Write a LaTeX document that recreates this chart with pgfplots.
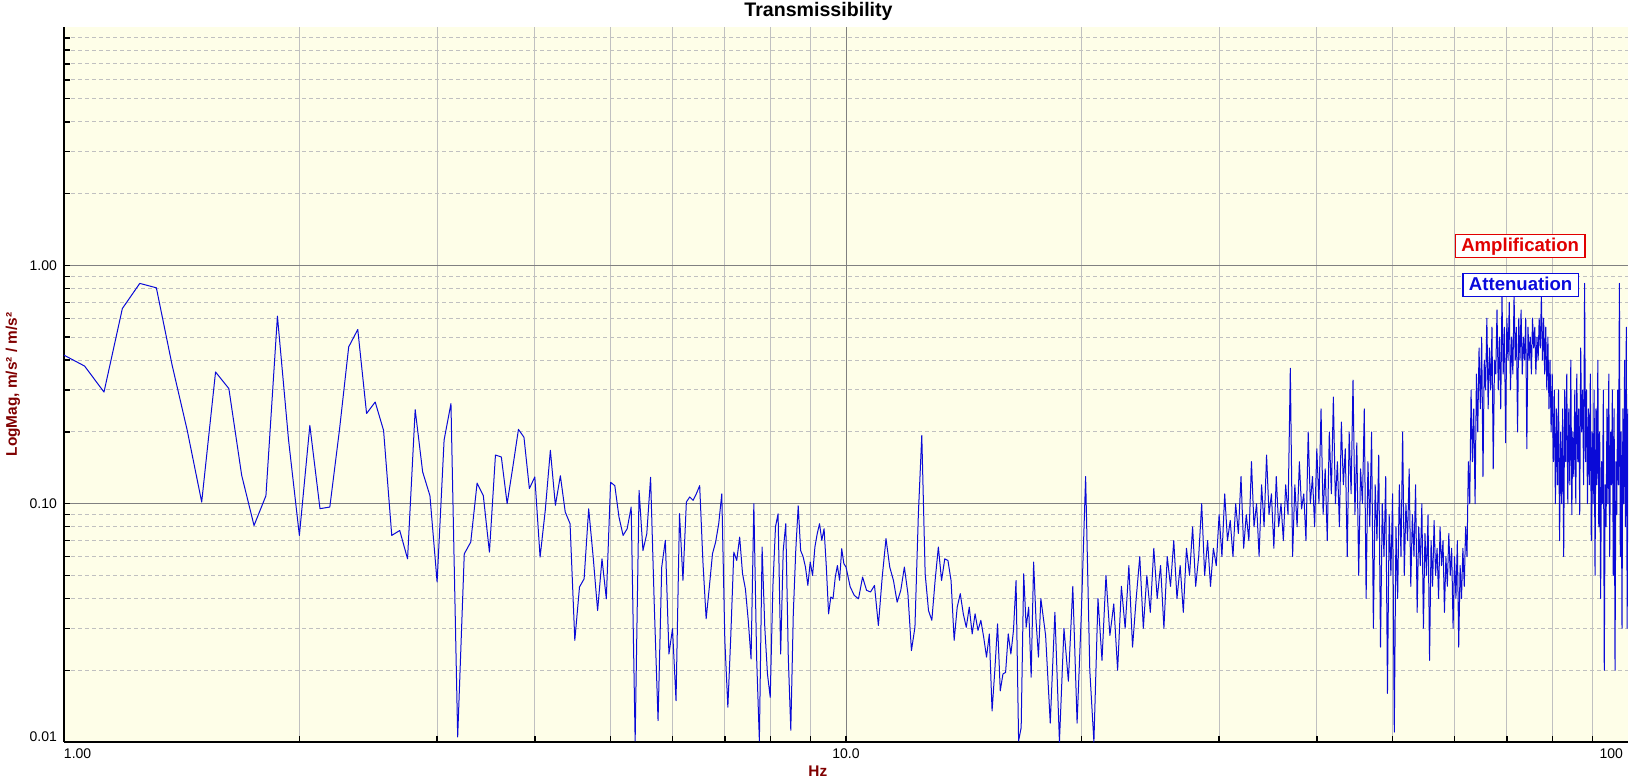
\documentclass[border=0pt]{standalone}
\usepackage{fontspec}
\setmainfont{Liberation Sans}
\usepackage{pgfplots}
\pgfplotsset{compat=1.18}
\definecolor{bgy}{RGB}{254,254,232}
\definecolor{lblred}{RGB}{128,0,0}
\definecolor{curve}{RGB}{10,10,215}
\definecolor{majg}{RGB}{128,128,128}
\definecolor{ming}{RGB}{192,192,192}
\definecolor{ampred}{RGB}{225,0,0}
\definecolor{attblue}{RGB}{10,10,220}
\begin{document}
\begin{tikzpicture}
\useasboundingbox (-32pt,-20pt) rectangle (786.5pt,371pt);
\begin{axis}[
  at={(0,0)}, anchor=south west,
  scale only axis, width=782pt, height=357.5pt,
  xmode=log, ymode=log,
  xmin=1, xmax=100, ymin=0.01, ymax=10,
  axis x line*=bottom, axis y line*=left,
  axis line style={black, line width=1.4pt, -},
  axis background/.style={fill=bgy},
  xtick={10}, xticklabels={10.0},
  extra x ticks={1,100}, extra x tick labels={\rlap{1.00},\llap{100\hspace{2.5pt}}},
  extra x tick style={grid=none, major tick length=0pt},
  minor xtick={2,3,4,5,6,7,8,9,20,30,40,50,60,70,80,90},
  ytick={0.1,1}, yticklabels={0.10,1.00},
  extra y ticks={0.01}, extra y tick labels={0.01},
  extra y tick style={yticklabel style={yshift=2.6pt}, grid=none},
  minor ytick={0.02,0.03,0.04,0.05,0.06,0.07,0.08,0.09,0.2,0.3,0.4,0.5,0.6,0.7,0.8,0.9,2,3,4,5,6,7,8,9},
  tick align=inside, major tick length=3pt, minor tick length=3pt,
  tick style={black, line width=0.7pt},
  xmajorgrids, xminorgrids, ymajorgrids, yminorgrids,
  major grid style={majg, line width=0.5pt},
  minor x grid style={ming, line width=0.5pt},
  minor y grid style={ming, line width=0.5pt, dash pattern=on 2pt off 1.5pt},
  ticklabel style={font=\fontsize{7}{8}\selectfont},
  title={Transmissibility},
  title style={at={(axis description cs:0.4824,1)}, anchor=base, yshift=-0.5pt, font=\fontsize{9.8}{11}\selectfont\bfseries},
  xlabel={Hz},
  xlabel style={at={(axis description cs:0.482,0)}, anchor=base, yshift=-17pt, font=\fontsize{7.7}{9}\selectfont\bfseries, text=lblred},
  ylabel={LogMag, m/s² / m/s²},
  ylabel style={at={(axis description cs:-0.0302,0.5)}, anchor=base, font=\fontsize{7.7}{9}\selectfont\bfseries, text=lblred},
]
\addplot[curve, line width=0.5pt, mark=none, line join=round] table {
1.0 0.42
1.0625 0.378
1.125 0.294
1.1875 0.659
1.25 0.84
1.3125 0.805
1.375 0.381
1.4375 0.203
1.5 0.1016
1.5625 0.357
1.625 0.304
1.6875 0.1315
1.75 0.081
1.8125 0.108
1.875 0.612
1.9375 0.185
2.0 0.0736
2.0625 0.213
2.125 0.0953
2.1875 0.0968
2.25 0.203
2.3125 0.455
2.375 0.538
2.4375 0.239
2.5 0.267
2.5625 0.203
2.625 0.0736
2.6875 0.0772
2.75 0.0587
2.8125 0.248
2.875 0.136
2.9375 0.108
3.0 0.0469
3.0625 0.185
3.125 0.263
3.1875 0.0105
3.25 0.0616
3.3125 0.069
3.375 0.122
3.4375 0.108
3.5 0.0626
3.5625 0.160
3.625 0.157
3.6875 0.10
3.75 0.1426
3.8125 0.205
3.875 0.190
3.9375 0.1157
4.0 0.1295
4.0625 0.0597
4.125 0.0937
4.1875 0.1675
4.25 0.0984
4.3125 0.131
4.375 0.0923
4.4375 0.0824
4.5 0.0267
4.5625 0.0447
4.625 0.0484
4.6875 0.0952
4.75 0.0597
4.8125 0.0356
4.875 0.0587
4.9375 0.0399
5.0 0.123
5.0625 0.119
5.125 0.0879
5.1875 0.0736
5.25 0.0785
5.3125 0.0968
5.375 0.0101
5.4375 0.1137
5.5 0.0636
5.5625 0.0748
5.625 0.129
5.6875 0.0368
5.75 0.0123
5.8125 0.0542
5.875 0.0702
5.9375 0.0234
6.0 0.0299
6.0625 0.0149
6.125 0.0908
6.1875 0.0477
6.25 0.1016
6.3125 0.1067
6.375 0.1033
6.4375 0.1102
6.5 0.119
6.5625 0.0569
6.625 0.0329
6.6875 0.0447
6.75 0.0617
6.8125 0.069
6.875 0.0824
6.9375 0.110
7.0 0.0267
7.0625 0.014
7.125 0.0284
7.1875 0.0626
7.25 0.0578
7.3125 0.0724
7.375 0.0508
7.4375 0.0439
7.5 0.0324
7.5625 0.0223
7.625 0.1
7.6875 0.0227
7.75 0.0101
7.8125 0.0658
7.875 0.0303
7.9375 0.0193
8.0 0.0154
8.0625 0.0447
8.125 0.08
8.1875 0.0907
8.25 0.0234
8.3125 0.0636
8.375 0.0824
8.4375 0.0227
8.5 0.0112
8.5625 0.0345
8.625 0.0636
8.6875 0.098
8.75 0.0636
8.8125 0.06
8.875 0.0542
8.9375 0.0454
9.0 0.0569
9.0625 0.05
9.125 0.0658
9.1875 0.0748
9.25 0.0824
9.3125 0.0702
9.375 0.0785
9.4375 0.0542
9.5 0.0345
9.5625 0.0406
9.625 0.0399
9.6875 0.049
9.75 0.055
9.8125 0.0477
9.875 0.0647
9.9375 0.056
10.0 0.0542
10.125 0.0447
10.25 0.0412
10.375 0.0399
10.5 0.0492
10.625 0.0433
10.75 0.0426
10.875 0.0454
11.0 0.0308
11.125 0.0492
11.25 0.0713
11.375 0.0542
11.5 0.0476
11.625 0.0386
11.75 0.0433
11.875 0.0542
12.0 0.0419
12.125 0.0242
12.25 0.0303
12.375 0.0908
12.5 0.1936
12.625 0.0508
12.75 0.0356
12.875 0.0324
13.0 0.0476
13.125 0.0658
13.25 0.0476
13.375 0.0587
13.5 0.0578
13.625 0.0476
13.75 0.0267
13.875 0.0368
14.0 0.0419
14.125 0.0345
14.25 0.0303
14.375 0.0368
14.5 0.0284
14.625 0.0345
14.75 0.0294
14.875 0.0324
15.0 0.0275
15.125 0.0227
15.25 0.0284
15.375 0.0135
15.5 0.02
15.625 0.0313
15.75 0.0164
15.875 0.0193
16.0 0.0196
16.125 0.0284
16.25 0.0234
16.375 0.0294
16.5 0.0476
16.625 0.0101
16.75 0.0115
16.875 0.0508
17.0 0.0303
17.125 0.0368
17.25 0.0187
17.375 0.0569
17.5 0.0324
17.625 0.0227
17.75 0.04
18.0 0.028
18.25 0.012
18.5 0.035
18.75 0.010
19.0 0.03
19.25 0.018
19.5 0.045
19.75 0.012
20.0 0.035
20.25 0.13
20.5 0.02
20.75 0.01
21.0 0.04
21.25 0.022
21.5 0.05
21.75 0.028
22.0 0.038
22.25 0.02
22.5 0.045
22.75 0.03
23.0 0.055
23.25 0.025
23.5 0.04
23.75 0.06
24.0 0.03
24.25 0.05
24.5 0.035
24.75 0.065
25.0 0.04
25.25 0.055
25.5 0.03
25.75 0.06
26.0 0.045
26.25 0.07
26.5 0.04
26.75 0.055
27.0 0.035
27.25 0.065
27.5 0.05
27.75 0.08
28.0 0.045
28.25 0.06
28.5 0.1
28.75 0.05
29.0 0.07
29.25 0.045
29.5 0.065
29.75 0.055
30.0 0.09
30.25 0.06
30.5 0.11
30.75 0.07
31.0 0.085
31.25 0.06
31.5 0.1
31.75 0.075
32.0 0.13
32.25 0.065
32.5 0.09
32.75 0.07
33.0 0.15
33.25 0.08
33.5 0.1
33.75 0.06
34.0 0.12
34.25 0.08
34.5 0.16
34.75 0.09
35.0 0.11
35.25 0.065
35.5 0.13
35.75 0.08
36.0 0.1
36.25 0.07
36.5 0.12
36.75 0.09
37.0 0.37
37.25 0.06
37.5 0.12
37.75 0.08
38.0 0.15
38.25 0.095
38.5 0.11
38.75 0.07
39.0 0.2
39.25 0.1
39.5 0.13
39.75 0.08
40.0 0.17
40.25 0.1
40.5 0.25
40.75 0.09
41.0 0.14
41.25 0.07
41.5 0.2
41.75 0.11
42.0 0.28
42.25 0.1
42.5 0.15
42.75 0.08
43.0 0.22
43.25 0.12
43.5 0.17
43.75 0.06
44.0 0.2
44.25 0.11
44.5 0.33
44.75 0.09
45.0 0.18
45.25 0.05
45.5 0.14
45.75 0.1
46.0 0.25
46.25 0.04
46.5 0.15
46.75 0.08
47.0 0.2
47.25 0.03
47.5 0.12
47.75 0.07
48.0 0.16
48.25 0.025
48.5 0.1
48.75 0.06
49.0 0.13
49.25 0.016
49.5 0.09
49.75 0.05
50.0 0.11
50.25 0.011
50.5 0.08
50.75 0.04
51.0 0.12
51.25 0.06
51.5 0.2
51.75 0.05
52.0 0.1
52.25 0.07
52.5 0.14
52.75 0.045
53.0 0.09
53.25 0.06
53.5 0.12
53.75 0.035
54.0 0.08
54.25 0.055
54.5 0.1
54.75 0.03
55.0 0.075
55.25 0.05
55.5 0.09
55.75 0.022
56.0 0.07
56.25 0.045
56.5 0.085
56.75 0.05
57.0 0.065
57.25 0.04
57.5 0.08
57.75 0.055
58.0 0.07
58.25 0.035
58.5 0.06
58.75 0.045
59.0 0.075
59.25 0.05
59.5 0.065
59.75 0.03
60.0 0.06
60.25 0.04
60.5 0.07
60.75 0.025
61.0 0.055
61.25 0.04
61.5 0.065
61.75 0.045
62.0 0.08
62.25 0.06
62.5 0.15
62.75 0.1
63.0 0.3
63.25 0.15
63.5 0.25
63.75 0.1
64.0 0.35
64.25 0.2
64.5 0.45
64.75 0.25
65.0 0.5
65.25 0.13
65.5 0.4
65.75 0.3
66.0 0.6
66.25 0.25
66.5 0.45
66.75 0.3
67.0 0.55
67.25 0.14
67.5 0.4
67.75 0.35
68.0 0.65
68.25 0.3
68.5 0.5
68.75 0.25
69.0 0.75
69.25 0.35
69.5 0.55
69.75 0.18
70.0 0.6
70.25 0.4
70.5 0.7
70.75 0.3
71.0 0.5
71.25 0.35
71.5 0.75
71.75 0.4
72.0 0.55
72.25 0.2
72.5 0.6
72.75 0.4
73.0 0.65
73.25 0.35
73.5 0.5
73.75 0.4
74.0 0.6
74.25 0.17
74.5 0.55
74.75 0.4
75.0 0.5
75.25 0.35
75.5 0.6
75.75 0.45
76.0 0.55
76.25 0.35
76.5 0.5
76.75 0.4
77.0 0.6
77.25 0.45
77.5 0.75
77.75 0.4
78.0 0.6
78.25 0.35
78.5 0.55
78.75 0.3
79.0 0.5
79.25 0.25
79.5 0.4
79.75 0.2
80.0 0.35
80.25 0.15
80.5 0.3
80.75 0.1
81.0 0.25
81.25 0.12
81.5 0.3
81.75 0.07
82.0 0.2
82.25 0.1
82.5 0.25
82.75 0.06
83.0 0.3
83.25 0.15
83.5 0.35
83.75 0.1
84.0 0.25
84.25 0.12
84.5 0.4
84.75 0.09
85.0 0.2
85.25 0.13
85.5 0.3
85.75 0.1
86.0 0.35
86.25 0.15
86.5 0.25
86.75 0.09
87.0 0.45
87.25 0.2
87.5 0.3
87.75 0.12
88.0 0.84
88.25 0.15
88.5 0.3
88.75 0.1
89.0 0.25
89.25 0.12
89.5 0.35
89.75 0.07
90.0 0.2
90.25 0.1
90.5 0.3
90.75 0.05
91.0 0.25
91.25 0.12
91.5 0.4
91.75 0.08
92.0 0.2
92.25 0.04
92.5 0.15
92.75 0.1
93.0 0.3
93.25 0.02
93.5 0.12
93.75 0.08
94.0 0.25
94.25 0.1
94.5 0.35
94.75 0.06
95.0 0.2
95.25 0.12
95.5 0.3
95.75 0.05
96.0 0.25
96.25 0.02
96.5 0.15
96.75 0.09
97.0 0.3
97.25 0.12
97.5 0.84
97.75 0.06
98.0 0.2
98.25 0.03
98.5 0.25
98.75 0.1
99.0 0.4
99.25 0.08
99.5 0.55
99.75 0.03
100.0 0.25
};
\node[draw=ampred, fill=white, text=ampred, font=\fontsize{9.3}{11}\selectfont\bfseries, line width=0.6pt, inner xsep=3pt, inner ysep=1.3pt, text height=6.8pt, text depth=1.9pt] at (axis cs:72.8,1.204) {Amplification};
\node[draw=attblue, fill=white, text=attblue, font=\fontsize{9.3}{11}\selectfont\bfseries, line width=0.6pt, inner xsep=3pt, inner ysep=1.3pt, text height=6.8pt, text depth=1.9pt] at (axis cs:72.9,0.826) {Attenuation};
\end{axis}
\end{tikzpicture}
\end{document}
